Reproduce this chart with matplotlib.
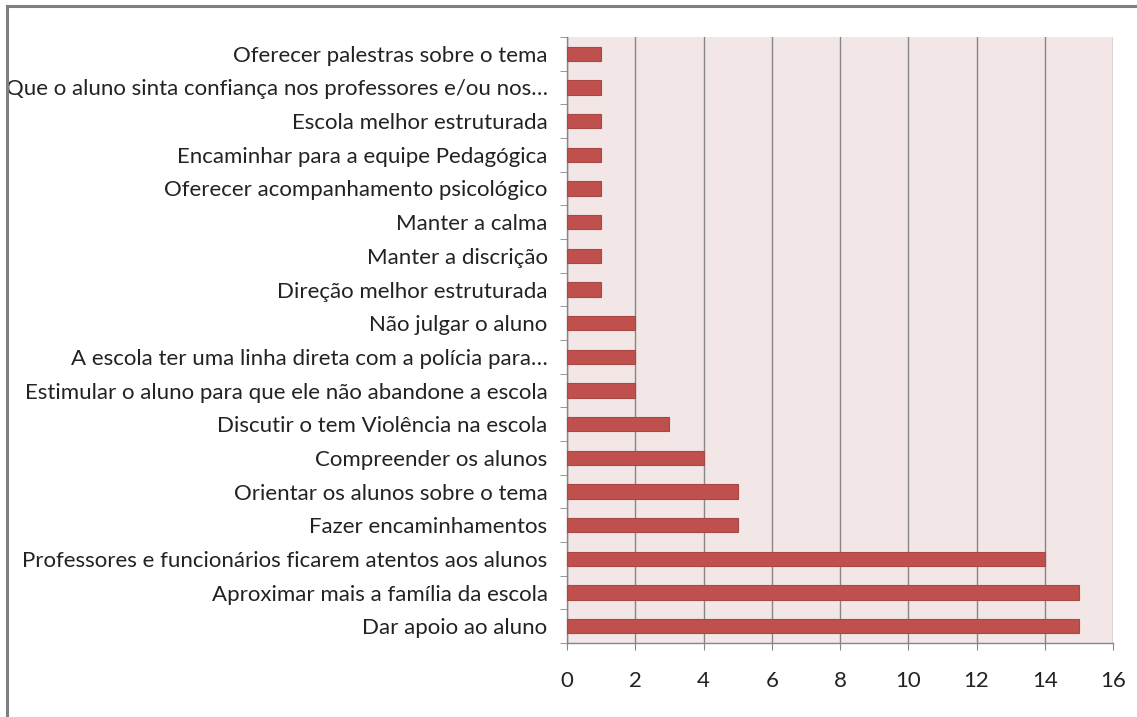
import matplotlib
matplotlib.use("Agg")
import matplotlib.pyplot as plt
from matplotlib.lines import Line2D

# respostas, de baixo para cima
categorias = [
    "Dar apoio ao aluno",
    "Aproximar mais a família da escola",
    "Professores e funcionários ficarem atentos aos alunos",
    "Fazer encaminhamentos",
    "Orientar os alunos sobre o tema",
    "Compreender os alunos",
    "Discutir o tem Violência na escola",
    "Estimular o aluno para que ele não abandone a escola",
    "A escola ter uma linha direta com a polícia para…",
    "Não julgar o aluno",
    "Direção melhor estruturada",
    "Manter a discrição",
    "Manter a calma",
    "Oferecer acompanhamento psicológico",
    "Encaminhar para a equipe Pedagógica",
    "Escola melhor estruturada",
    "Que o aluno sinta confiança nos professores e/ou nos…",
    "Oferecer palestras sobre o tema",
]
valores = [15, 15, 14, 5, 5, 4, 3, 2, 2, 2, 1, 1, 1, 1, 1, 1, 1, 1]
xticks = [0, 2, 4, 6, 8, 10, 12, 14, 16]

plt.rcParams['font.family'] = ['Lato', 'DejaVu Sans']

fig = plt.figure(figsize=(11.37, 7.17), dpi=100)
ax = fig.add_axes([0.4987, 0.1032, 0.4802, 0.8452])
ax.set_facecolor('#f2e6e6')

pos = list(range(len(categorias)))
ax.barh(pos, valores, height=0.42, color='#c0504d', edgecolor='#a84845',
        linewidth=0.8, zorder=3)

ax.set_xlim(0, 16)
ax.set_ylim(-0.5, len(categorias) - 0.5)
ax.set_xticks(xticks)
ax.set_xticklabels([str(t) for t in xticks])
ax.xaxis.grid(True, color='#868686', linewidth=1.0, zorder=1)
ax.set_axisbelow(True)

# rótulos no centro das barras, ticks nas divisões
ax.set_yticks(pos)
ax.set_yticklabels(categorias)
ax.set_yticks([p - 0.5 for p in pos] + [len(pos) - 0.5], minor=True)
ax.tick_params(axis='y', which='major', length=0, pad=14, labelsize=16,
               labelcolor='#222222')
ax.tick_params(axis='y', which='minor', length=5, color='#868686',
               direction='out')
ax.tick_params(axis='x', length=5, color='#868686', direction='out', pad=15,
               labelsize=16, labelcolor='#222222')

for s in ['top', 'right']:
    ax.spines[s].set_visible(False)
for s in ['left', 'bottom']:
    ax.spines[s].set_color('#868686')
    ax.spines[s].set_linewidth(1.0)

# moldura do gráfico
fig.add_artist(Line2D([6.5 / 1137, 6.5 / 1137], [0, 1 - 6 / 717],
                      transform=fig.transFigure, color='#7f7f7f', linewidth=2.2))
fig.add_artist(Line2D([6.5 / 1137, 1], [1 - 6 / 717, 1 - 6 / 717],
                      transform=fig.transFigure, color='#7f7f7f', linewidth=2.2))

fig.savefig('out.png', dpi=100)
